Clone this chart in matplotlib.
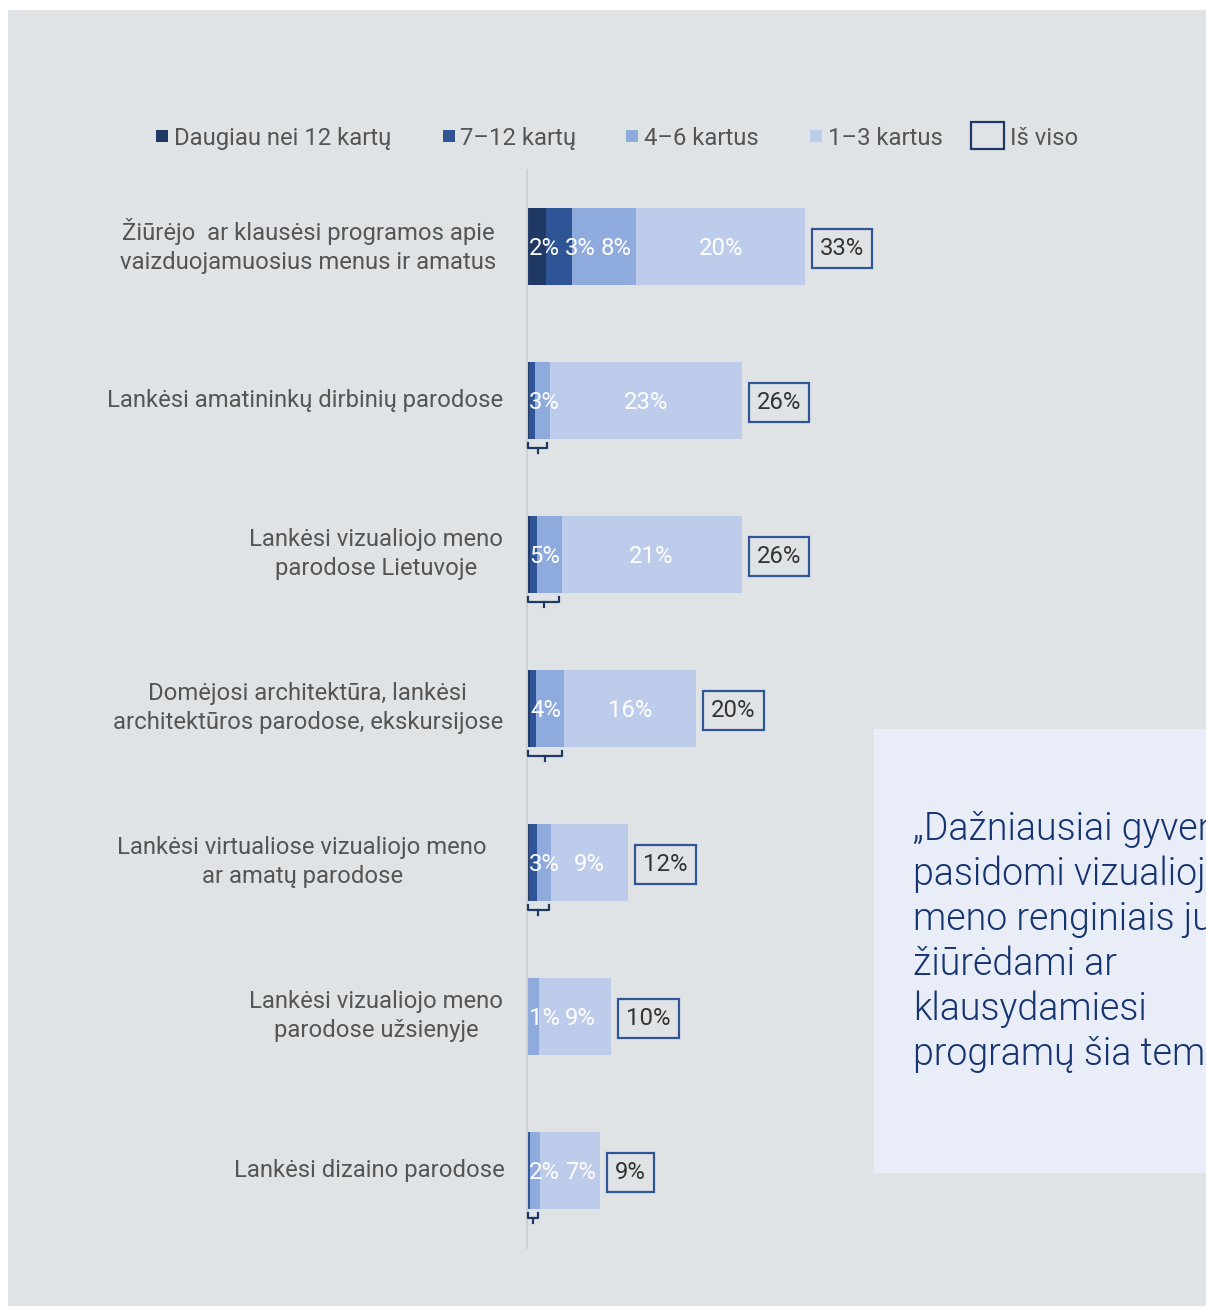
import matplotlib
matplotlib.use("Agg")
import matplotlib.pyplot as plt
from matplotlib.patches import Rectangle
from matplotlib.transforms import offset_copy
import numpy as np

# ---------------- data ----------------
categories = [
    "Žiūrėjo  ar klausėsi programos apie\nvaizduojamuosius menus ir amatus",
    "Lankėsi amatininkų dirbinių parodose",
    "Lankėsi vizualiojo meno\nparodose Lietuvoje",
    "Domėjosi architektūra, lankėsi\narchitektūros parodose, ekskursijose",
    "Lankėsi virtualiose vizualiojo meno\nar amatų parodose",
    "Lankėsi vizualiojo meno\nparodose užsienyje",
    "Lankėsi dizaino parodose",
]
series_names = ["Daugiau nei 12 kartų", "7–12 kartų", "4–6 kartus", "1–3 kartus"]
total_name = "Iš viso"
more12 = [2.3, 0.2, 0.4, 0.4, 0.2, 0.0, 0.0]
from7to12 = [3.0, 0.7, 0.8, 0.7, 1.0, 0.0, 0.3]
from4to6 = [7.7, 1.8, 2.9, 3.3, 1.7, 1.4, 1.3]
from1to3 = [20.0, 22.8, 21.4, 15.7, 9.1, 8.6, 7.1]
totals_label = ["33%", "26%", "26%", "20%", "12%", "10%", "9%"]
# rows where the three smaller groups are shown with one combined label
grouped = [False, True, True, True, True, False, True]
group_label = [None, "3%", "5%", "4%", "3%", "1%", "2%"]
seg_labels_row0 = ["2%", "3%", "8%", "20%"]
seg4_label = ["20%", "23%", "21%", "16%", "9%", "9%", "7%"]
quote_lines = ["„Dažniausiai gyventojai", "pasidomi vizualiojo",
               "meno renginiais juos", "žiūrėdami ar", "klausydamiesi",
               "programų šia tema“"]

# ---------------- style ----------------
W, H = 1206, 1308
colors = ["#1F3864", "#2F5597", "#8FAADC", "#BDCCEB"]
bg = "#DFE3E6"
FONT = "Roboto"
plt.rcParams["font.family"] = [FONT, "DejaVu Sans"]

fig = plt.figure(figsize=(W / 100, H / 100), dpi=100)
fig.patch.set_facecolor("white")

def fx(x):
    return x / W

def fy(y):
    return 1 - y / H

# background panel
fig.patches.append(Rectangle((fx(8), fy(1306)), fx(W) - fx(8), fy(10) - fy(1306),
                             transform=fig.transFigure, facecolor=bg,
                             edgecolor="none", zorder=-3))
# quote box
fig.patches.append(Rectangle((fx(874), fy(1173)), fx(W) - fx(874), fy(729) - fy(1173),
                             transform=fig.transFigure, facecolor="#E9EDF7",
                             edgecolor="none", zorder=-2))
qy = 840
for line in quote_lines:
    fig.text(fx(913), fy(qy), line, fontsize=27, fontweight=300,
             color="#163470", ha="left", va="baseline")
    qy += 45

# axes
pxu = 8.42  # px per percent
ax_l, ax_t, ax_b = 527, 170, 1248
ax = fig.add_axes([fx(ax_l), fy(ax_b), fx(W) - fx(ax_l), fy(ax_t) - fy(ax_b)])
ax.set_facecolor("none")
ax.set_xlim(0, (W - ax_l) / pxu)
row_px = 154
ax.set_ylim((ax_b - 246) / row_px, -(246 - ax_t) / row_px)
for s in ["top", "right", "bottom"]:
    ax.spines[s].set_visible(False)
ax.spines["left"].set_color("#CDD2D7")
ax.spines["left"].set_linewidth(1.5)
ax.set_xticks([])
ax.set_yticks([])

y = np.arange(len(categories))
bh = 77 / row_px
series = [more12, from7to12, from4to6, from1to3]
left = np.zeros(len(categories))
for vals, c in zip(series, colors):
    ax.barh(y, vals, left=left, height=bh, color=c, edgecolor="none", zorder=2)
    left += np.array(vals)
ends = left

fig.canvas.draw()
renderer = fig.canvas.get_renderer()
lab_fs = 17.2

def text_w_data(s):
    t = ax.text(0, 0, s, fontsize=lab_fs)
    w = t.get_window_extent(renderer).width
    t.remove()
    return w / pxu

# segment labels with overlap avoidance
for i in range(len(categories)):
    segs = []
    if grouped[i] or i != 0:
        g_end = more12[i] + from7to12[i] + from4to6[i]
        segs.append((g_end / 2, group_label[i]))
        segs.append((g_end + from1to3[i] / 2, seg4_label[i]))
    else:
        st = 0
        for k, vals in enumerate(series):
            segs.append((st + vals[i] / 2, seg_labels_row0[k]))
            st += vals[i]
    prev_end = 2 / pxu
    for cx, s in segs:
        w = text_w_data(s)
        start = max(cx - w / 2, prev_end)
        ax.text(start, y[i], s, fontsize=lab_fs, color="white", ha="left",
                va="center_baseline", zorder=4)
        prev_end = start + w + 5 / pxu

# totals boxes
for i in range(len(categories)):
    tr = offset_copy(ax.transData, fig=fig, x=15, y=0, units="dots")
    ax.text(ends[i], y[i], totals_label[i], transform=tr, fontsize=lab_fs,
            color="#333333", ha="left", va="center_baseline", zorder=4,
            bbox=dict(boxstyle="square,pad=0.34", facecolor="none",
                      edgecolor=colors[1], linewidth=1.6))

# brackets
for i in range(len(categories)):
    if not grouped[i]:
        continue
    g_end = more12[i] + from7to12[i] + from4to6[i]
    x0, x1 = 0.12, g_end - 0.3
    yb = y[i] + bh / 2
    y_up, y_h, y_dn = yb + 4 / row_px, yb + 9 / row_px, yb + 14 / row_px
    ax.plot([x0, x0, x1, x1], [y_up, y_h, y_h, y_up], color=colors[0], lw=1.6,
            solid_joinstyle="round", clip_on=False, zorder=3)
    xc = (x0 + x1) / 2
    ax.plot([xc, xc], [y_h, y_dn], color=colors[0], lw=1.6, clip_on=False, zorder=3)

# category labels
label_pad = [31, 24, 24, 24, 40, 24, 22]
for i, cat in enumerate(categories):
    tr = offset_copy(ax.transData, fig=fig, x=-label_pad[i], y=0, units="dots")
    ax.text(0, y[i], cat, transform=tr, fontsize=17.2, color="#555555",
            ha="right", va="center", multialignment="center", linespacing=1.36)

# legend
leg_sq_x = [156, 443, 626, 810]
leg_tx_x = [174, 460, 644, 828]
leg_y = 136
for k, name in enumerate(series_names):
    fig.patches.append(Rectangle((fx(leg_sq_x[k]), fy(leg_y + 6)), 12 / W, 12 / H,
                                 transform=fig.transFigure, facecolor=colors[k],
                                 edgecolor="none"))
    fig.text(fx(leg_tx_x[k]), fy(leg_y), name, fontsize=17.2, color="#555555",
             ha="left", va="center_baseline")
fig.patches.append(Rectangle((fx(971), fy(149)), 33 / W, 27 / H,
                             transform=fig.transFigure, facecolor="none",
                             edgecolor=colors[0], linewidth=1.6))
fig.text(fx(1010), fy(leg_y), total_name, fontsize=17.2, color="#555555",
         ha="left", va="center_baseline")

fig.savefig("out.png", dpi=100)
